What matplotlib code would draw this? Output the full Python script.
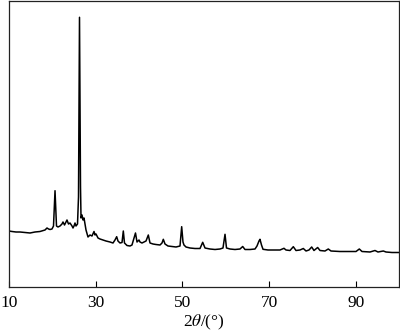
import matplotlib
matplotlib.use("Agg")
import matplotlib.pyplot as plt

plt.rcParams['font.family'] = ['Liberation Serif', 'DejaVu Serif']
plt.rcParams['mathtext.fontset'] = 'stix'

two_theta = [10.00, 10.69, 11.62, 12.54, 13.69, 14.85, 16.00, 17.15, 18.31, 18.77,
             19.12, 19.46, 19.92, 20.27, 20.62, 20.96, 21.31, 21.77, 22.23, 22.46,
             22.81, 23.15, 23.38, 23.73, 24.08, 24.54, 24.77, 25.00, 25.23, 25.46,
             25.81, 26.04, 26.27, 26.50, 26.62, 26.85, 27.08, 27.31, 27.54, 27.77,
             28.23, 28.69, 29.15, 29.62, 29.85, 30.08, 30.54, 31.00, 31.69, 32.38,
             33.31, 34.00, 34.46, 34.85, 35.15, 35.62, 36.08, 36.38, 36.65, 37.23,
             37.92, 38.38, 39.19, 39.54, 39.77, 40.00, 40.23, 40.69, 41.15, 41.62,
             42.15, 42.54, 43.23, 43.92, 44.85, 45.31, 45.61, 46.00, 46.69, 47.62,
             48.54, 49.46, 49.85, 50.15, 50.38, 50.85, 51.77, 52.92, 54.08, 54.70,
             55.23, 56.38, 57.54, 58.69, 59.38, 59.85, 60.19, 61.00, 62.15, 63.31,
             63.93, 64.46, 65.62, 66.77, 67.23, 67.69, 67.92, 68.27, 68.62, 69.77,
             71.38, 72.54, 73.46, 73.92, 74.85, 75.61, 76.23, 77.15, 77.92, 78.54,
             79.23, 79.85, 80.38, 81.23, 81.77, 82.92, 83.68, 84.31, 86.38, 88.69,
             90.08, 90.84, 91.46, 93.31, 94.46, 95.15, 96.38, 97.00, 98.38, 100.00]

intensity = [56.0, 55.5, 55.0, 55.0, 54.5, 54.0, 55.0, 55.5, 57.0, 59.0,
             58.0, 57.5, 58.0, 61.0, 96.3, 61.0, 60.0, 61.0, 63.0, 65.0,
             62.0, 65.0, 67.0, 63.0, 64.0, 61.0, 59.0, 61.0, 64.0, 61.0,
             63.0, 90.0, 269.7, 100.0, 69.0, 72.0, 67.0, 69.0, 63.0, 57.0,
             50.0, 52.0, 51.0, 55.5, 52.0, 53.0, 49.0, 48.0, 47.0, 46.0,
             45.0, 44.0, 47.0, 50.3, 46.0, 44.0, 44.5, 56.0, 44.0, 41.5,
             41.0, 42.0, 54.0, 45.0, 46.0, 47.0, 45.0, 44.0, 45.0, 46.0,
             52.0, 44.0, 43.0, 42.5, 42.0, 44.0, 47.7, 43.0, 41.0, 40.5,
             40.0, 41.0, 60.3, 45.0, 42.0, 40.0, 39.0, 38.5, 38.5, 44.7,
             39.0, 38.0, 37.5, 38.0, 39.0, 52.7, 39.0, 38.0, 37.5, 38.0,
             40.5, 37.5, 37.5, 38.0, 41.0, 46.0, 47.7, 42.0, 37.7, 37.0,
             37.0, 37.0, 38.7, 37.0, 36.5, 40.3, 36.5, 37.0, 38.5, 36.0,
             37.0, 40.0, 36.5, 39.5, 36.5, 36.0, 38.0, 36.0, 35.5, 35.5,
             35.5, 38.0, 35.5, 35.0, 36.5, 35.0, 36.0, 35.0, 34.5, 34.5]

x_ticks = [10, 30, 50, 70, 90]
x_label = r'2$\theta$/(°)'

fig = plt.figure(figsize=(4.0, 3.32), dpi=100)
ax = fig.add_axes([9/400, 45/332, 390/400, 286/332])
ax.plot(two_theta, intensity, color='black', linewidth=1.1)
ax.set_xlim(10, 100)
ax.set_ylim(0, 286)
ax.set_xticks(x_ticks)
ax.set_yticks([])
ax.tick_params(axis='x', direction='in', length=4, width=0.8, labelsize=12.5, pad=6)
for s in ax.spines.values():
    s.set_linewidth(0.9)
    s.set_color('#222222')
ax.set_xlabel(x_label, fontsize=12.5, labelpad=1)
fig.savefig('out.png', dpi=100)
